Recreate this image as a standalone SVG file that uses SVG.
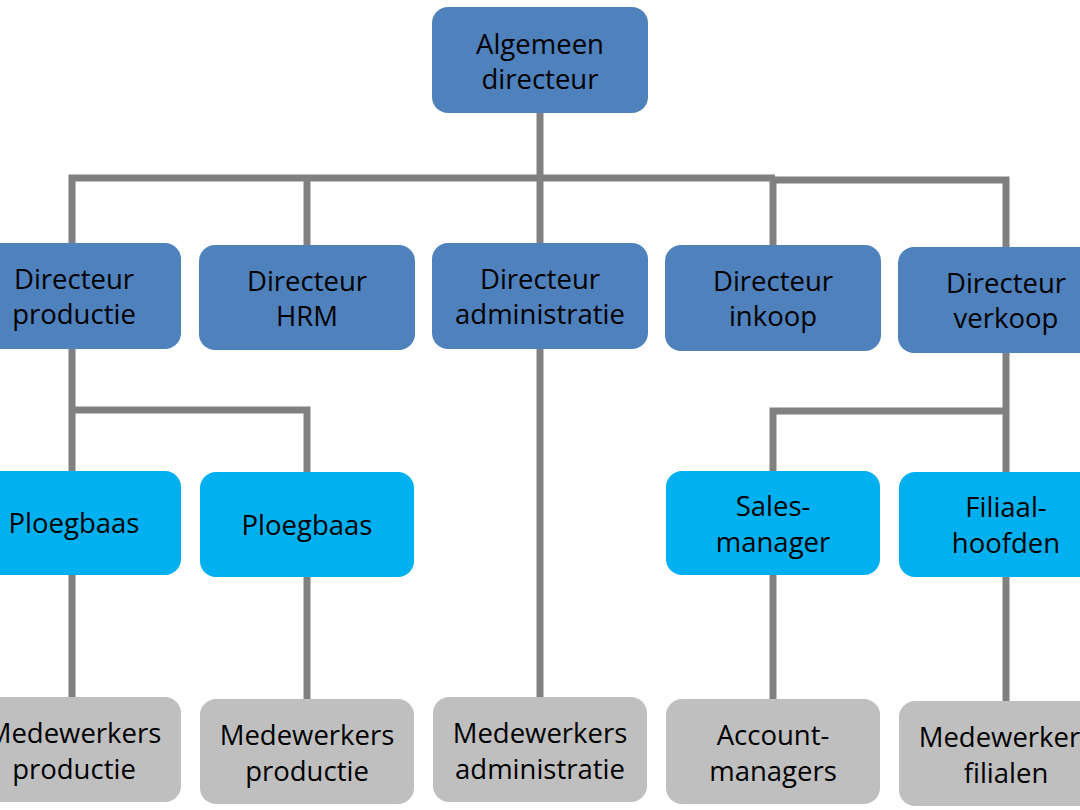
<svg xmlns="http://www.w3.org/2000/svg" width="1080" height="810" viewBox="0 0 1080 810">
<style>
.n1{fill:#4F81BD}
.n2{fill:#00B0F0}
.n3{fill:#BFBFBF}
.c{stroke:#808080;stroke-width:7;fill:none}
text{font-family:"Open Sans","DejaVu Sans",sans-serif;font-size:27.5px;fill:#000;text-anchor:middle}
</style>
<rect width="1080" height="810" fill="#fff"/>
<g id="connectors">
<path class="c" d="M540 113V697"/>
<path class="c" d="M72 350V178H775"/>
<path class="c" d="M775 180H1006V353"/>
<path class="c" d="M307 178V245"/>
<path class="c" d="M773 180V245"/>
<path class="c" d="M72 350V697"/>
<path class="c" d="M72 410H307V699"/>
<path class="c" d="M1006 353V701"/>
<path class="c" d="M1006 411H773V699"/>
</g>
<g id="n-algemeen"><rect class="n1" x="432" y="7" width="216" height="106" rx="16"/><text x="540" y="54">Algemeen</text><text x="540" y="89">directeur</text></g>
<g id="n-productie"><rect class="n1" x="-36" y="243" width="217" height="106" rx="16"/><text x="74" y="289">Directeur</text><text x="74" y="324">productie</text></g>
<g id="n-hrm"><rect class="n1" x="199" y="245" width="216" height="105" rx="16"/><text x="307" y="291">Directeur</text><text x="307" y="326">HRM</text></g>
<g id="n-administratie"><rect class="n1" x="432" y="243" width="216" height="106" rx="16"/><text x="540" y="289">Directeur</text><text x="540" y="324">administratie</text></g>
<g id="n-inkoop"><rect class="n1" x="665" y="245" width="216" height="106" rx="16"/><text x="773" y="291">Directeur</text><text x="773" y="326">inkoop</text></g>
<g id="n-verkoop"><rect class="n1" x="898" y="247" width="216" height="106" rx="16"/><text x="1006" y="293">Directeur</text><text x="1006" y="328">verkoop</text></g>
<g id="n-ploegbaas1"><rect class="n2" x="-36" y="471" width="217" height="104" rx="16"/><text x="74" y="533">Ploegbaas</text></g>
<g id="n-ploegbaas2"><rect class="n2" x="200" y="472" width="214" height="105" rx="16"/><text x="307" y="535">Ploegbaas</text></g>
<g id="n-sales"><rect class="n2" x="666" y="471" width="214" height="104" rx="16"/><text x="773" y="516">Sales-</text><text x="773" y="552">manager</text></g>
<g id="n-filiaal"><rect class="n2" x="899" y="472" width="216" height="105" rx="16"/><text x="1006" y="517">Filiaal-</text><text x="1006" y="553">hoofden</text></g>
<g id="n-mw-prod1"><rect class="n3" x="-36" y="697" width="217" height="105" rx="16"/><text x="74" y="743">Medewerkers</text><text x="74" y="779">productie</text></g>
<g id="n-mw-prod2"><rect class="n3" x="200" y="699" width="214" height="105" rx="16"/><text x="307" y="745">Medewerkers</text><text x="307" y="781">productie</text></g>
<g id="n-mw-admin"><rect class="n3" x="433" y="697" width="214" height="105" rx="16"/><text x="540" y="743">Medewerkers</text><text x="540" y="779">administratie</text></g>
<g id="n-account"><rect class="n3" x="666" y="699" width="214" height="105" rx="16"/><text x="773" y="745">Account-</text><text x="773" y="781">managers</text></g>
<g id="n-mw-filialen"><rect class="n3" x="899" y="701" width="216" height="105" rx="16"/><text x="1006" y="747">Medewerkers</text><text x="1006" y="783">filialen</text></g>
</svg>
